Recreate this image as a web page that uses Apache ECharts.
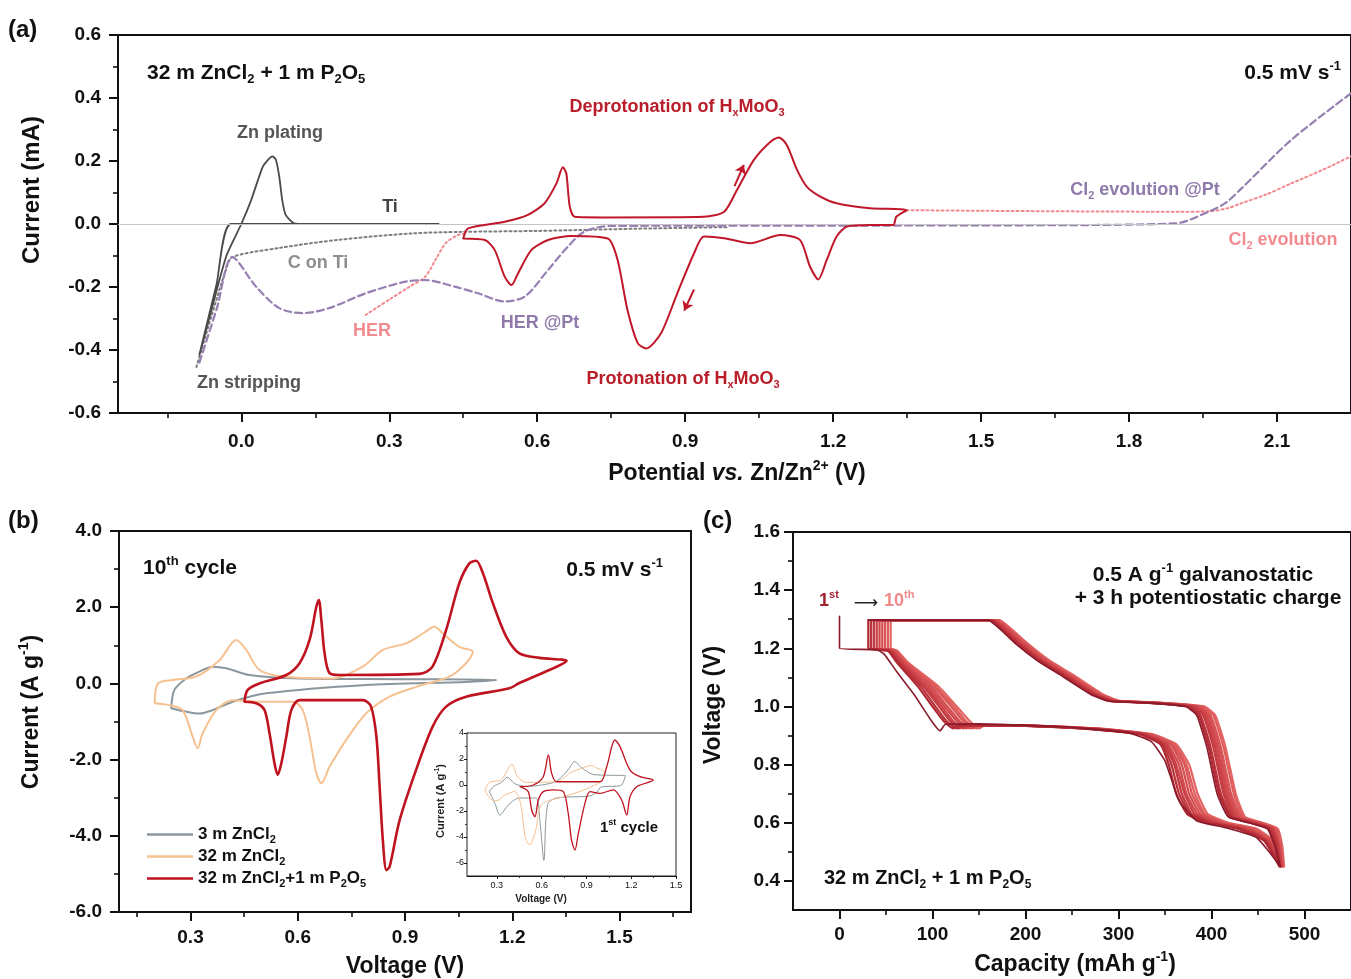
<!DOCTYPE html>
<html>
<head>
<meta charset="utf-8">
<title>CV and galvanostatic curves</title>
<script src="https://cdn.jsdelivr.net/npm/echarts@6.0.0/dist/echarts.min.js"></script>
<style>
html,body{margin:0;padding:0;background:#fff;}
#main{width:1351px;height:979px;}
</style>
</head>
<body>
<div id="main"></div>
<script>
const FF = '"Liberation Sans", Arial, Helvetica, sans-serif';

// ---------- (a) potential (V) vs current (mA) ----------
const tiCurve = [[0.4,0],[0.19,0],[-0.021,0],[-0.05,-0.19],[-0.085,-0.415],[-0.06,-0.27],[-0.03,-0.1],[0,0],
  [0.02,0.076],[0.043,0.18],[0.055,0.205],[0.063,0.215],[0.07,0.205],[0.077,0.15],[0.083,0.076],[0.09,0.029],
  [0.107,0.002],[0.13,0],[0.4,0]];
const cOnTi = [[-0.091,-0.454],[-0.06,-0.29],[-0.03,-0.14],[-0.018,-0.105],[0.077,-0.076],[0.198,-0.05],
  [0.345,-0.03],[0.446,-0.025],[0.6,-0.022],[0.8,-0.015],[0.985,-0.01]];
const herLow = [[0.252,-0.289],[0.3,-0.24],[0.34,-0.2],[0.373,-0.167],[0.395,-0.11],[0.415,-0.06],[0.44,-0.035],[0.455,-0.03]];
const cl2High = [[1.349,0.044],[1.5,0.042],[1.7,0.04],[1.9,0.039],[1.96,0.04],[2.0,0.05],[2.028,0.066],
  [2.08,0.095],[2.129,0.129],[2.19,0.17],[2.25,0.215]];
const ptCurve = [[-0.085,-0.44],[-0.05,-0.27],[-0.018,-0.105],[0.03,-0.199],[0.077,-0.267],[0.124,-0.283],
  [0.178,-0.267],[0.252,-0.22],[0.333,-0.183],[0.373,-0.178],[0.433,-0.199],[0.48,-0.22],[0.534,-0.246],
  [0.575,-0.23],[0.622,-0.146],[0.662,-0.072],[0.696,-0.024],[0.75,-0.006],[1.2,-0.005],[1.6,-0.004],
  [1.894,0.002],[1.961,0.039],[1.995,0.066],[2.028,0.113],[2.129,0.267],[2.25,0.415]];
const mooCurve = [[0.45,-0.046],[0.46,-0.014],[0.534,0.007],[0.581,0.029],[0.615,0.066],[0.639,0.129],
  [0.652,0.18],[0.659,0.161],[0.666,0.055],[0.676,0.023],[0.736,0.021],[0.938,0.023],[0.979,0.039],
  [1.005,0.108],[1.039,0.203],[1.073,0.261],[1.09,0.275],[1.106,0.251],[1.127,0.171],[1.147,0.118],
  [1.174,0.087],[1.207,0.066],[1.275,0.05],[1.349,0.044],[1.328,0.023],[1.322,-0.003],[1.275,-0.003],
  [1.228,-0.008],[1.207,-0.04],[1.187,-0.114],[1.17,-0.176],[1.153,-0.135],[1.133,-0.051],[1.093,-0.035],
  [1.032,-0.061],[0.979,-0.045],[0.938,-0.04],[0.918,-0.093],[0.884,-0.22],[0.851,-0.347],[0.821,-0.395],
  [0.804,-0.379],[0.783,-0.273],[0.763,-0.114],[0.743,-0.046],[0.669,-0.038],[0.622,-0.051],[0.588,-0.083],
  [0.561,-0.157],[0.548,-0.194],[0.534,-0.167],[0.514,-0.083],[0.494,-0.051],[0.45,-0.046]];
const aArrows = [[[1.0,0.12],[1.019,0.188]], [[0.918,-0.208],[0.898,-0.275]]];

const aTicksX = [0,0.3,0.6,0.9,1.2,1.5,1.8,2.1];
const aMinorX = [-0.15,0.15,0.45,0.75,1.05,1.35,1.65,1.95];
const aTicksY = [-0.6,-0.4,-0.2,0,0.2,0.4,0.6];
const aMinorY = [-0.5,-0.3,-0.1,0.1,0.3,0.5];

// ---------- (b) 10th cycle, voltage (V) vs current (A/g) ----------
const b3m = [[0.246,-0.65],[0.255,-0.17],[0.288,0.13],[0.325,0.31],[0.362,0.44],[0.4,0.4],[0.465,0.22],
  [0.605,0.13],[0.885,0.11],[1.156,0.09],[1.071,0.04],[0.791,-0.04],[0.512,-0.26],[0.418,-0.48],
  [0.362,-0.7],[0.325,-0.79],[0.288,-0.74],[0.246,-0.65]];
const b32m = [[0.2,-0.52],[0.209,0],[0.25,0.09],[0.316,0.18],[0.381,0.61],[0.428,1.14],[0.456,0.88],
  [0.493,0.35],[0.558,0.18],[0.698,0.13],[0.782,0.44],[0.838,0.88],[0.903,1.05],[0.95,1.31],[0.983,1.49],
  [1.006,1.31],[1.052,0.96],[1.09,0.83],[1.071,0.53],[1.024,0.18],[0.931,-0.09],[0.857,-0.35],[0.791,-0.79],
  [0.735,-1.49],[0.689,-2.19],[0.666,-2.62],[0.652,-2.36],[0.633,-1.4],[0.614,-0.7],[0.586,-0.48],
  [0.493,-0.48],[0.418,-0.44],[0.372,-0.7],[0.334,-1.31],[0.32,-1.7],[0.306,-1.4],[0.278,-0.7],
  [0.241,-0.57],[0.2,-0.52]];
const b32mP = [[0.451,-0.48],[0.46,-0.17],[0.493,0],[0.568,0.22],[0.605,0.53],[0.633,1.14],[0.652,2.01],
  [0.659,2.19],[0.666,1.66],[0.675,0.79],[0.689,0.27],[0.717,0.22],[0.94,0.25],[0.977,0.44],[1.015,1.4],
  [1.052,2.63],[1.08,3.15],[1.099,3.22],[1.118,2.89],[1.146,2.1],[1.183,1.23],[1.22,0.79],[1.276,0.67],
  [1.352,0.59],[1.318,0.41],[1.22,0.01],[1.192,-0.13],[1.071,-0.35],[1.015,-0.61],[0.977,-1.14],
  [0.931,-2.27],[0.885,-3.59],[0.857,-4.81],[0.848,-4.9],[0.838,-4.11],[0.829,-2.71],[0.82,-1.4],
  [0.805,-0.61],[0.782,-0.44],[0.605,-0.44],[0.582,-0.7],[0.568,-1.4],[0.554,-2.1],[0.544,-2.4],
  [0.535,-2.1],[0.521,-1.31],[0.507,-0.7],[0.484,-0.52],[0.451,-0.48]];
const bTicksX = [0.3,0.6,0.9,1.2,1.5];
const bMinorX = [0.15,0.45,0.75,1.05,1.35,1.65];
const bTicksY = [-6,-4,-2,0,2,4];
const bMinorY = [-5,-3,-1,1,3];

// inset: 1st cycle
const i3m = [[0.25,-0.5],[0.28,-0.1],[0.33,0.2],[0.37,0.6],[0.42,0.1],[0.5,-0.1],[0.6,0],[0.7,0.3],
  [0.78,1.2],[0.82,1.8],[0.87,1.3],[0.95,0.8],[1.05,0.75],[1.16,0.72],[1.13,-0.05],[1.0,-0.15],
  [0.97,-0.55],[0.92,-0.85],[0.7,-1.0],[0.64,-1.5],[0.615,-5.8],[0.59,-3.0],[0.56,-1.0],[0.45,-1.0],
  [0.38,-1.5],[0.32,-2.3],[0.29,-1.5],[0.25,-0.5]];
const i32m = [[0.22,-0.4],[0.25,0.2],[0.33,0.4],[0.4,1.6],[0.44,0.6],[0.5,0.2],[0.7,0.25],[0.8,1.0],
  [0.85,1.2],[0.93,1.5],[0.97,1.3],[1.02,1.0],[1.0,0.3],[0.9,-0.3],[0.75,-0.9],[0.6,-1.5],[0.56,-3.5],
  [0.52,-4.6],[0.49,-4.0],[0.46,-1.5],[0.42,-0.5],[0.35,-0.8],[0.3,-1.2],[0.26,-1.1],[0.22,-0.4]];
const i32mP = [[0.455,-0.13],[0.544,0],[0.611,0.64],[0.645,2.31],[0.667,0.9],[0.7,0.25],[0.991,0.25],
  [1.036,1.41],[1.091,3.46],[1.125,2.95],[1.192,1.15],[1.259,0.64],[1.348,0.38],[1.237,-0.13],
  [1.192,-0.9],[1.17,-2.31],[1.136,-1.15],[1.08,-0.38],[0.991,-0.64],[0.924,-0.51],[0.89,-1.41],
  [0.846,-3.72],[0.823,-5.0],[0.8,-4.23],[0.778,-2.18],[0.745,-0.51],[0.678,-0.38],[0.611,-0.51],
  [0.578,-1.15],[0.555,-2.44],[0.533,-1.92],[0.51,-0.51],[0.455,-0.13]];
const iTicksX = [0.3,0.6,0.9,1.2,1.5];
const iMinorX = [0.45,0.75,1.05,1.35];
const iTicksY = [-6,-4,-2,0,2,4];
const iMinorY = [-5,-3,-1,1,3];

// ---------- (c) capacity (mAh/g) vs voltage (V), cycles 1-10 ----------
const gcd1DisCap = [0,0,40,48,61,80,99,108,114,150,240,310,335,350,365,384,414,448,464,474];
const gcd1DisV = [1.31,1.2,1.195,1.18,1.122,1.042,0.95,0.916,0.939,0.94,0.93,0.91,0.88,0.813,0.676,0.607,0.584,0.55,0.492,0.45];
const gcdDisV = [1.297,1.2,1.192,1.15,1.07,1.0,0.95,0.925,0.935,0.935,0.925,0.905,0.87,0.80,0.70,0.63,0.60,0.58,0.54,0.45];
const gcdDisCap = [ // cycles 2-10
  [31,31,52,62,84,100,112,122,128,180,260,322,345,354,362,374,395,428,456,473],
  [34,34,53,64,87,103,115,126,132,182,262,324,347,357,365,377,398,430,457,474],
  [37,37,54,65,90,107,119,129,135,185,264,326,349,360,368,379,401,433,459,474],
  [40,40,56,67,92,110,122,133,139,187,266,327,351,362,371,382,404,435,460,475],
  [43,43,57,68,95,113,126,136,142,190,267,329,353,365,373,385,406,438,461,475],
  [46,46,58,70,98,116,129,140,146,192,269,331,356,368,376,388,409,440,462,476],
  [49,49,59,71,101,120,133,143,149,195,271,333,358,371,379,391,412,443,464,477],
  [52,52,61,73,103,123,136,147,153,197,273,334,360,373,382,393,415,445,465,477],
  [55,55,62,74,106,126,140,150,156,200,275,336,362,376,385,396,418,448,466,478]
];
const gcdChgV = [0.52,0.58,0.60,0.62,0.70,0.86,0.97,1.0,1.013,1.019,1.042,1.111,1.157,1.214,1.271,1.297,1.297];
const gcdChgCap = [ // cycles 1-10
  [468,460,440,418,406,395,384,372,327,289,270,236,213,190,171,160,31],
  [469,461,442,420,408,397,386,374,329,290,271,238,214,191,172,161,34],
  [470,462,443,422,410,399,388,376,331,292,273,239,216,193,174,163,37],
  [471,464,445,424,413,402,391,379,333,293,274,241,217,194,175,164,40],
  [472,465,447,426,415,404,393,381,335,295,276,242,219,196,176,165,43],
  [472,466,448,428,417,406,395,383,337,296,277,244,220,197,178,167,46],
  [473,467,450,430,419,408,397,385,339,297,278,245,222,199,179,168,49],
  [474,468,452,432,421,410,399,387,341,299,280,247,223,200,180,169,52],
  [475,470,453,434,424,413,402,390,343,300,281,248,225,202,182,171,55],
  [476,471,455,436,426,415,404,392,345,302,283,250,226,203,183,172,58]
];
const gcdColors = ['#8a1a2b','#b02a34','#ba323c','#c33a41','#ca4146','#d0484c','#d54f52','#da5657','#df5d5d','#e46664'];
const cTicksX = [0,100,200,300,400,500];
const cMinorX = [50,150,250,350,450];
const cTicksY = [0.4,0.6,0.8,1.0,1.2,1.4,1.6];
const cMinorY = [0.5,0.7,0.9,1.1,1.3,1.5];

// ---------- helpers ----------
function zip(xs, ys) { return xs.map((x, i) => [x, ys[i]]); }

function R(size, color, weight) {
  weight = weight || 'bold';
  const lh = Math.round(size * 1.25);
  const s = Math.round(size * 0.62);
  const base = {fontFamily: FF, fontWeight: weight, fill: color, color: color};
  return {
    n: Object.assign({}, base, {fontSize: size, lineHeight: lh, verticalAlign: 'middle'}),
    i: Object.assign({}, base, {fontSize: size, lineHeight: lh, verticalAlign: 'middle', fontStyle: 'italic'}),
    sub: Object.assign({}, base, {fontSize: s, lineHeight: s, verticalAlign: 'bottom'}),
    sup: Object.assign({}, base, {fontSize: s, lineHeight: s, verticalAlign: 'top'}),
    arr: Object.assign({}, base, {fontFamily: '"DejaVu Sans", sans-serif', fontWeight: 'normal', fontSize: size, lineHeight: lh, verticalAlign: 'middle'})
  };
}
function txt(x, y, text, size, color, align, weight, rot) {
  return {
    type: 'text', x: x, y: y, rotation: rot || 0, z: 100, silent: true,
    style: {text: text, rich: R(size, color, weight), fill: color,
      align: align || 'center', textAlign: align || 'center', verticalAlign: 'middle', textVerticalAlign: 'middle'}
  };
}
function mainAxis(kind, g, min, max, ticks, fmt, st) {
  return {
    type: 'value', gridIndex: g, min: min, max: max, position: kind === 'x' ? 'bottom' : 'left', offset: 0,
    axisLine: {show: true, onZero: false, lineStyle: {color: '#111', width: st.lw}},
    axisTick: {show: true, inside: false, length: st.tl, customValues: ticks, lineStyle: {color: '#111', width: st.lw}},
    axisLabel: {show: true, customValues: ticks, formatter: fmt, margin: st.margin, fontFamily: FF,
      fontSize: st.fs, fontWeight: st.fw, color: '#111'},
    splitLine: {show: false}
  };
}
function minorAxis(kind, g, min, max, ticks, st) {
  return {
    type: 'value', gridIndex: g, min: min, max: max, position: kind === 'x' ? 'bottom' : 'left', offset: 0,
    axisLine: {show: false, onZero: false},
    axisTick: {show: true, inside: false, length: st.ml, customValues: ticks, lineStyle: {color: '#111', width: st.lw * 0.8}},
    axisLabel: {show: false},
    splitLine: {show: false}
  };
}
function line(name, data, ax, color, width, type, z, smooth) {
  return {
    name: name, type: 'line', xAxisIndex: ax, yAxisIndex: ax, data: data, symbol: 'none', showSymbol: false,
    smooth: smooth === undefined ? 0.3 : smooth, z: z || 2, silent: true, animation: false,
    lineStyle: {color: color, width: width, type: type || 'solid', cap: 'round', join: 'round'},
    itemStyle: {color: color}
  };
}
const f1 = v => v.toFixed(1);
const f0 = v => String(v);

const stBig = {lw: 2, tl: 9, ml: 5, fs: 19, fw: 'bold', margin: 17};
const stAX = Object.assign({}, stBig, {margin: 19});
const stBX = Object.assign({}, stBig, {margin: 16});
const stCX = Object.assign({}, stBig, {margin: 15});
const stCY = Object.assign({}, stBig, {margin: 13});
const stInX = {lw: 1, tl: 3, ml: 2, fs: 9, fw: 'normal', margin: 5};
const stInY = {lw: 1, tl: 3, ml: 2, fs: 9, fw: 'normal', margin: 3};

// ---------- series ----------
const series = [];
const zeroLine = line('zero', [], 0, '#c4c4c4', 1);
zeroLine.markLine = {silent: true, symbol: 'none', label: {show: false}, animation: false,
  lineStyle: {color: '#c4c4c4', width: 1, type: 'solid'}, data: [{yAxis: 0}]};
series.push(zeroLine);
series.push(line('C on Ti', cOnTi, 0, '#7d7d7d', 2, [2, 3], 3));
series.push(line('HER', herLow, 0, '#f08a8e', 2, [2, 3], 3));
series.push(line('Cl2 evolution', cl2High, 0, '#f08a8e', 2, [2, 3], 3));
series.push(line('Pt', ptCurve, 0, '#9680b2', 2.2, [7, 4], 3));
series.push(line('Ti', tiCurve, 0, '#4a4a4a', 1.8, 'solid', 4, 0.2));
const moo = line('HxMoO3', mooCurve, 0, '#c0182a', 2, 'solid', 5, 0.25);
moo.markLine = {silent: true, symbol: ['none', 'arrow'], symbolSize: 9, label: {show: false}, animation: false,
  lineStyle: {color: '#c0182a', width: 2, type: 'solid'},
  data: aArrows.map(a => [{coord: a[0]}, {coord: a[1]}])};
series.push(moo);

const nm3 = '3 m ZnCl2', nm32 = '32 m ZnCl2', nmP = '32 m ZnCl2+1 m P2O5';
series.push(line(nm3, b3m, 2, '#8a969b', 2, 'solid', 3, 0.3));
series.push(line(nm32, b32m, 2, '#f6c191', 2, 'solid', 3, 0.3));
series.push(line(nmP, b32mP, 2, '#bf1420', 2.6, 'solid', 4, 0.3));

series.push(line('i3m', i3m, 4, '#8a969b', 1, 'solid', 5, 0.3));
series.push(line('i32m', i32m, 4, '#f6c191', 1, 'solid', 5, 0.3));
series.push(line('i32mP', i32mP, 4, '#bf1420', 1.3, 'solid', 6, 0.3));

for (let k = 9; k >= 0; k--) {
  const dis = k === 0 ? zip(gcd1DisCap, gcd1DisV) : zip(gcdDisCap[k - 1], gcdDisV);
  const chg = zip(gcdChgCap[k], gcdChgV);
  series.push(line('cycle ' + (k + 1), dis.concat(chg), 5, gcdColors[k], k === 0 ? 1.6 : 2.3, 'solid', 3 + (k === 0 ? 2 : 0), 0.15));
}

// ---------- texts ----------
const graphic = [
  txt(8, 30, '{n|(a)}', 24, '#111', 'left'),
  txt(8, 521, '{n|(b)}', 24, '#111', 'left'),
  txt(703, 521, '{n|(c)}', 24, '#111', 'left'),

  txt(147, 73, '{n|32 m ZnCl}{sub|2}{n| + 1 m P}{sub|2}{n|O}{sub|5}', 21, '#111', 'left'),
  txt(1341, 73, '{n|0.5 mV s}{sup|-1}', 21, '#111', 'right'),
  txt(280, 133, '{n|Zn plating}', 18, '#555', 'center'),
  txt(390, 207, '{n|Ti}', 18, '#444', 'center'),
  txt(318, 263, '{n|C on Ti}', 18, '#8e8e8e', 'center'),
  txt(372, 331, '{n|HER}', 18, '#f28b90', 'center'),
  txt(540, 323, '{n|HER @Pt}', 18, '#8f7aab', 'center'),
  txt(249, 383, '{n|Zn stripping}', 18, '#555', 'center'),
  txt(677, 107, '{n|Deprotonation of H}{sub|x}{n|MoO}{sub|3}', 18, '#b81d29', 'center'),
  txt(683, 379, '{n|Protonation of H}{sub|x}{n|MoO}{sub|3}', 18, '#b81d29', 'center'),
  txt(1145, 190, '{n|Cl}{sub|2}{n| evolution @Pt}', 18, '#8f7aab', 'center'),
  txt(1283, 240, '{n|Cl}{sub|2}{n| evolution}', 18, '#f28b90', 'center'),
  txt(32, 190, '{n|Current (mA)}', 24, '#111', 'center', 'bold', Math.PI / 2),
  txt(737, 474, '{n|Potential }{i|vs.}{n| Zn/Zn}{sup|2+}{n| (V)}', 23, '#111', 'center'),

  txt(143, 568, '{n|10}{sup|th}{n| cycle}', 21, '#111', 'left'),
  txt(663, 570, '{n|0.5 mV s}{sup|-1}', 21, '#111', 'right'),
  txt(32, 712, '{n|Current (A g}{sup|-1}{n|)}', 23, '#111', 'center', 'bold', Math.PI / 2),
  txt(405, 967, '{n|Voltage (V)}', 23, '#111', 'center'),
  txt(441, 801, '{n|Current (A g}{sup|-1}{n|)}', 11, '#222', 'center', 'bold', Math.PI / 2),
  txt(541, 899, '{n|Voltage (V)}', 10, '#222', 'center'),
  txt(629, 828, '{n|1}{sup|st}{n| cycle}', 15, '#111', 'center'),

  txt(819, 601, '{n|1}{sup|st}', 18, '#a3222f', 'left'),
  txt(866, 604, '{arr|\u27F6}', 17, '#222', 'center', 'normal'),
  txt(884, 601, '{n|10}{sup|th}', 18, '#f08a8a', 'left'),
  txt(1203, 575, '{n|0.5 A g}{sup|-1}{n| galvanostatic}', 21, '#111', 'center'),
  txt(1208, 598, '{n|+ 3 h potentiostatic charge}', 21, '#111', 'center'),
  txt(824, 878, '{n|32 m ZnCl}{sub|2}{n| + 1 m P}{sub|2}{n|O}{sub|5}', 20, '#111', 'left'),
  txt(714, 705, '{n|Voltage (V)}', 23, '#111', 'center', 'bold', Math.PI / 2),
  txt(1075, 965, '{n|Capacity (mAh g}{sup|-1}{n|)}', 23, '#111', 'center')
];

const legendNames = {};
legendNames[nm3] = '{n|3 m ZnCl}{sub|2}';
legendNames[nm32] = '{n|32 m ZnCl}{sub|2}';
legendNames[nmP] = '{n|32 m ZnCl}{sub|2}{n|+1 m P}{sub|2}{n|O}{sub|5}';

const option = {
  backgroundColor: '#fff',
  animation: false,
  grid: [
    {left: 118, top: 35, width: 1238, height: 378, show: true, borderColor: '#111', borderWidth: 2},
    {left: 119, top: 531, width: 572, height: 381, show: true, borderColor: '#111', borderWidth: 2},
    {left: 467, top: 733, width: 209, height: 143, show: true, borderColor: '#222', borderWidth: 1, backgroundColor: '#fff', z: 4},
    {left: 793, top: 532, width: 564, height: 378, show: true, borderColor: '#111', borderWidth: 2}
  ],
  xAxis: [
    mainAxis('x', 0, -0.25, 2.25, aTicksX, f1, stAX),
    minorAxis('x', 0, -0.25, 2.25, aMinorX, stAX),
    mainAxis('x', 1, 0.1, 1.7, bTicksX, f1, stBX),
    minorAxis('x', 1, 0.1, 1.7, bMinorX, stBX),
    mainAxis('x', 2, 0.1, 1.5, iTicksX, f1, stInX),
    mainAxis('x', 3, -50, 550, cTicksX, f0, stCX),
    minorAxis('x', 3, -50, 550, cMinorX, stCX),
    minorAxis('x', 2, 0.1, 1.5, iMinorX, stInX)
  ],
  yAxis: [
    mainAxis('y', 0, -0.6, 0.6, aTicksY, f1, stBig),
    minorAxis('y', 0, -0.6, 0.6, aMinorY, stBig),
    mainAxis('y', 1, -6, 4, bTicksY, f1, stBig),
    minorAxis('y', 1, -6, 4, bMinorY, stBig),
    mainAxis('y', 2, -7, 4, iTicksY, f0, stInY),
    mainAxis('y', 3, 0.3, 1.6, cTicksY, f1, stCY),
    minorAxis('y', 3, 0.3, 1.6, cMinorY, stCY),
    minorAxis('y', 2, -7, 4, iMinorY, stInY)
  ],
  legend: {
    left: 142, top: 821, orient: 'vertical', itemGap: 3, itemWidth: 46, itemHeight: 2.5,
    icon: 'rect', selectedMode: false, data: [nm3, nm32, nmP],
    formatter: name => legendNames[name],
    textStyle: {rich: R(17, '#111')}
  },
  graphic: graphic,
  series: series
};

const chart = echarts.init(document.getElementById('main'), null, {renderer: 'canvas'});
chart.setOption(option);
</script>
</body>
</html>
